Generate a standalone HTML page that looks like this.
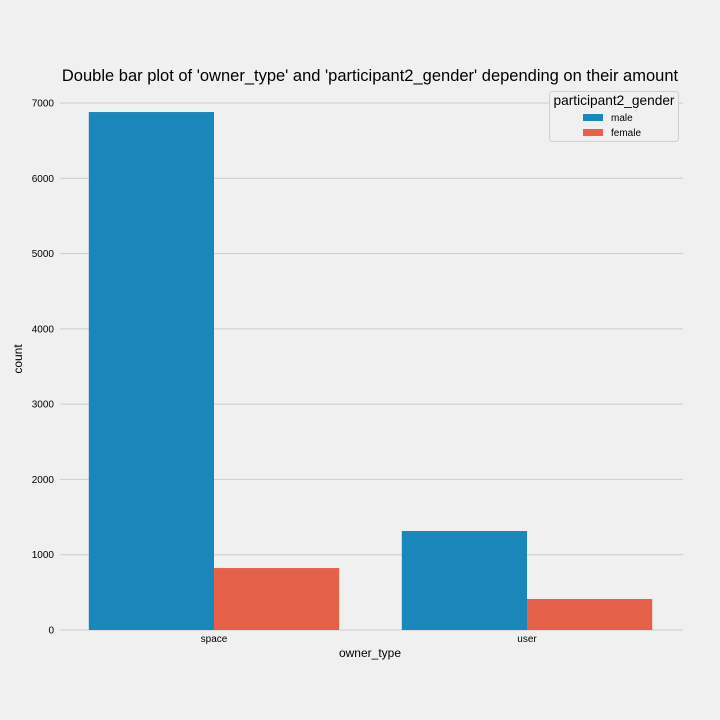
<!DOCTYPE html>
<html><head><meta charset="utf-8"><style>
html,body{margin:0;padding:0;background:#f0f0f0;}
svg{display:block;font-family:"Liberation Sans","DejaVu Sans",sans-serif;}
</style></head><body>
<svg id="chart" width="720" height="720" viewBox="0 0 720 720">
<rect width="720" height="720" fill="#f0f0f0"/>
<text x="370" y="81" text-anchor="middle" font-size="16.5" fill="#000">Double bar plot of 'owner_type' and 'participant2_gender' depending on their amount</text>
<g id="grid"></g><g id="bars"></g><g id="xt"></g>
<text x="370" y="657" text-anchor="middle" font-size="12">owner_type</text>
<text transform="translate(22,359) rotate(-90)" text-anchor="middle" font-size="12">count</text>
<g>
<rect x="549.5" y="91.5" width="129" height="50" rx="3" fill="#f0f0f0" stroke="#d0d0d0"/>
<text x="614" y="105" text-anchor="middle" font-size="13.7">participant2_gender</text>
<rect x="583" y="114" width="20" height="7" fill="#1a87ba"/>
<text x="611" y="121" font-size="10">male</text>
<rect x="583" y="129" width="20" height="7" fill="#e5614a"/>
<text x="611" y="136" font-size="10">female</text>
</g>
</svg>
<script>
const categories=["space","user"];
const male=[6880,1315];
const female=[823,412];
const yTicks=[0,1000,2000,3000,4000,5000,6000,7000];
const NS="http://www.w3.org/2000/svg";
const gx0=60,gx1=683,bx0=57.5,bx1=683.5,y0=630,yTop=103;
function ys(v){return y0-(v/7000)*(y0-yTop);}
const band=(bx1-bx0)/categories.length;
function xc(i){return bx0+band*(i+0.5);}
function mk(t,a,p){const e=document.createElementNS(NS,t);for(const k in a)e.setAttribute(k,a[k]);document.getElementById(p).appendChild(e);return e;}
yTicks.forEach(v=>{
 const l=mk("line",{x1:gx0,x2:gx1,y1:ys(v),y2:ys(v),stroke:"#cbcbcb","stroke-width":1},"grid");
 
 
 const t=mk("text",{x:54,y:ys(v)+3.5,"text-anchor":"end","font-size":10},"grid");
 t.textContent=v;
 
 
});
const bw=band*0.4;
categories.forEach((c,i)=>{
 const cx=xc(i);
 const m=mk("rect",{x:cx-bw,y:ys(male[i]),width:bw,height:y0-ys(male[i]),fill:"#1a87ba"},"bars");
 
 
 const f=mk("rect",{x:cx,y:ys(female[i]),width:bw,height:y0-ys(female[i]),fill:"#e5614a"},"bars");
 
 
 const t=mk("text",{x:cx,y:642,"text-anchor":"middle","font-size":10},"xt");
 t.textContent=c;
 
 
});
</script>
</body></html>
